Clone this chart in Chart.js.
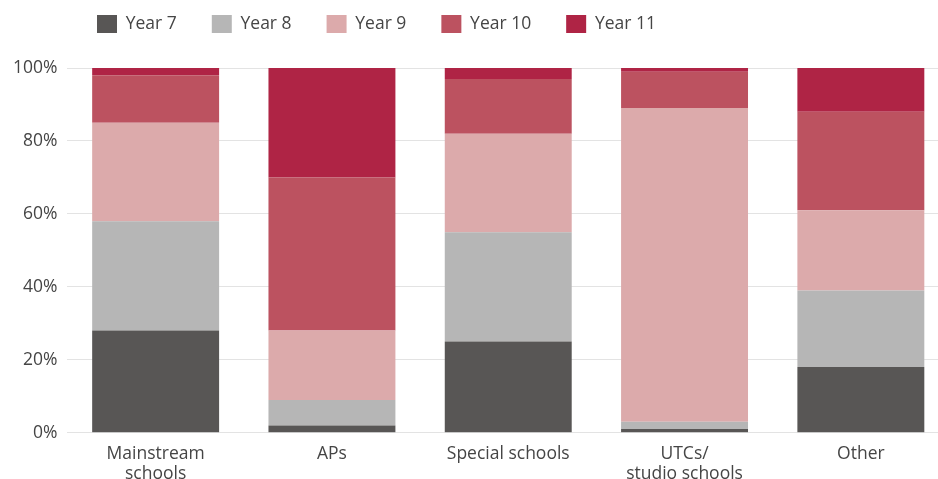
<!DOCTYPE html>
<html>
<head>
<meta charset="utf-8">
<script src="https://cdn.jsdelivr.net/npm/chart.js@4/dist/chart.umd.min.js"></script>
<style>
  html, body { margin: 0; padding: 0; background: #fff; overflow: hidden; }
  #wrap { width: 950px; height: 495px; }
</style>
</head>
<body>
<div id="wrap"><canvas id="myChart_years"></canvas></div>
<script>
// school types along the x axis
const schoolTypes = [["Mainstream", "schools"], "APs", "Special schools", ["UTCs/", "studio schools"], "Other"];

// share of pupils (%) in each year group, per school type
const year7 = [28, 2, 25, 1, 18];
const year8 = [30, 7, 30, 2, 21];
const year9 = [27, 19, 27, 86, 22];
const year10 = [13, 42, 15, 10, 27];
const year11 = [2, 30, 3, 1, 12];

const yTicks = [0, 20, 40, 60, 80, 100];

const textColor = "#454545";
const gridColor = "#e3e3e3";
const fontFamily = "'Open Sans', sans-serif";

// move the legend so it starts where the original one does (first box at 97,15)
const legendNudge = {
  id: "legendNudge",
  afterUpdate(chart) {
    const lg = chart.legend;
    const pad = lg.options.labels.padding;
    lg.left = 97 - pad;
    lg.top = 15 - pad;
  }
};

const ctx_years = document.getElementById("myChart_years").getContext("2d");
const myChart_years = new Chart(ctx_years, {
  type: "bar",
  data: {
    labels: schoolTypes,
    datasets: [
      { label: "Year 7", data: year7, backgroundColor: "#585655" },
      { label: "Year 8", data: year8, backgroundColor: "#b6b6b6" },
      { label: "Year 9", data: year9, backgroundColor: "#dcaaab" },
      { label: "Year 10", data: year10, backgroundColor: "#bc5260" },
      { label: "Year 11", data: year11, backgroundColor: "#af2445" },
    ],
  },
  options: {
    responsive: true,
    maintainAspectRatio: false,
    animation: false,
    datasets: {
      bar: { borderWidth: 0, categoryPercentage: 1, barPercentage: 0.72 }
    },
    layout: { padding: { top: 5, left: 3, right: 1, bottom: 0 } },
    plugins: {
      legend: {
        position: "top",
        align: "start",
        labels: {
          boxWidth: 20,
          boxHeight: 18,
          padding: 35,
          color: textColor,
          font: { family: fontFamily, size: 17.5 }
        }
      },
      tooltip: { enabled: false }
    },
    scales: {
      x: {
        stacked: true,
        grid: { display: false, drawTicks: false, tickLength: 0 },
        border: { display: false },
        ticks: {
          color: textColor,
          padding: 11,
          maxRotation: 0,
          font: { family: fontFamily, size: 17.5, lineHeight: 1.15 }
        }
      },
      y: {
        stacked: true,
        min: 0,
        max: 100,
        afterBuildTicks: (axis) => { axis.ticks = yTicks.map((v) => ({ value: v })); },
        grid: { color: gridColor, lineWidth: 1, drawTicks: false },
        border: { display: false },
        ticks: {
          color: textColor,
          padding: 10,
          font: { family: fontFamily, size: 17.5 },
          callback: (v) => v + "%"
        }
      }
    }
  },
  plugins: [legendNudge]
});
</script>
</body>
</html>
